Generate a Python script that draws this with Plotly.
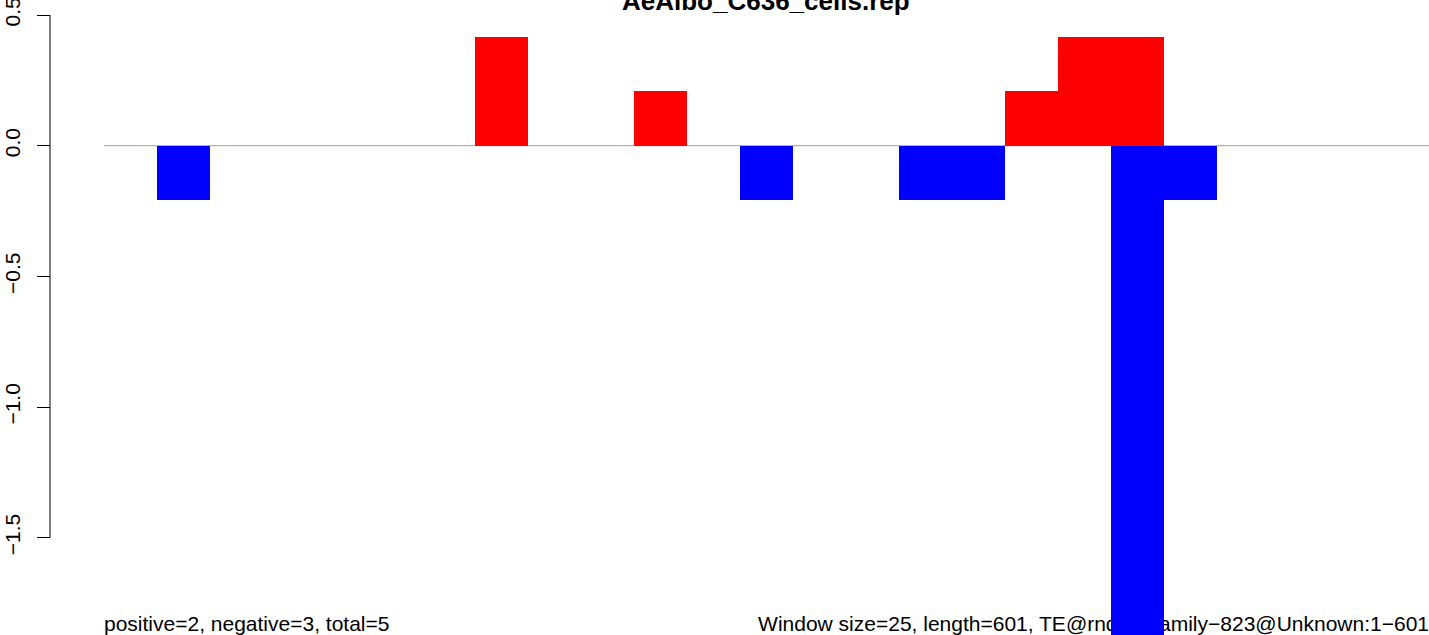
import plotly.graph_objects as go

# ---- data ----
window_index = list(range(25))
positive_values = [0, 0, 0, 0, 0, 0, 0, 0.4167, 0, 0, 0.2083, 0, 0, 0, 0, 0, 0, 0.2083, 0.4167, 0.4167, 0, 0, 0, 0, 0]
negative_values = [0, -0.2083, 0, 0, 0, 0, 0, 0, 0, 0, 0, 0, -0.2083, 0, 0, -0.2083, -0.2083, 0, 0, -1.875, -0.2083, 0, 0, 0, 0]
y_tick_values = [0.5, 0.0, -0.5, -1.0, -1.5]
y_tick_labels = ["0.5", "0.0", "\u22120.5", "\u22121.0", "\u22121.5"]
title_text = "AeAlbo_C636_cells.rep"
left_note = "positive=2, negative=3, total=5"
right_note = "Window size=25, length=601, TE@rnd\u22121_family\u2212823@Unknown:1\u2212601"

W, H = 1429, 635
FONT = "Liberation Sans, Arial, Helvetica, sans-serif"

fig = go.Figure()

# text layer on base (pixel-like) axes, drawn beneath the bar overlay
fig.add_trace(go.Scatter(
    x=[104, 1429], y=[626, 626], mode="text",
    text=[left_note, right_note],
    textposition=["middle right", "middle left"],
    textfont=dict(family=FONT, size=21, color="black"),
    hoverinfo="skip", showlegend=False, cliponaxis=False,
    xaxis="x", yaxis="y",
))

fig.add_trace(go.Bar(
    x=window_index, y=positive_values, marker=dict(color="#FF0000", line=dict(width=0)),
    width=1.0, showlegend=False, xaxis="x2", yaxis="y2",
))
fig.add_trace(go.Bar(
    x=window_index, y=negative_values, marker=dict(color="#0000FF", line=dict(width=0)),
    width=1.0, showlegend=False, xaxis="x2", yaxis="y2",
))

px_per_unit_y = 261.3
zero_px = 145.7
y_top = zero_px / px_per_unit_y
y_bot = -(H - zero_px) / px_per_unit_y
left_px = 104
bar_px = (W - left_px) / 25.0
x_lo = -0.5 - left_px / bar_px
x_hi = 24.5

fig.update_layout(
    width=W, height=H,
    margin=dict(l=0, r=0, t=0, b=0, autoexpand=False),
    paper_bgcolor="white", plot_bgcolor="white",
    barmode="relative", bargap=0,
    showlegend=False,
    xaxis=dict(range=[0, W], visible=False, domain=[0, 1], fixedrange=True, automargin=False),
    yaxis=dict(range=[H, 0], visible=False, domain=[0, 1], fixedrange=True, automargin=False),
    xaxis2=dict(overlaying="x", range=[x_lo, x_hi], visible=False, fixedrange=True, automargin=False),
    yaxis2=dict(
        overlaying="y", anchor="free", position=50 / W, side="left", automargin=False,
        range=[y_bot, y_top], showgrid=False, zeroline=False, showline=False,
        tickvals=y_tick_values, ticktext=y_tick_labels,
        ticks="outside", ticklen=13, tickwidth=1, tickcolor="black",
        tickangle=-90, tickfont=dict(family=FONT, size=21, color="black"),
        ticklabelstandoff=9, ticklabeloverflow="allow",
        fixedrange=True,
    ),
    shapes=[
        dict(type="line", xref="paper", yref="y2", x0=50 / W, x1=50 / W, y0=-1.5, y1=0.5,
             line=dict(color="black", width=1)),
        dict(type="line", xref="paper", yref="y2", x0=left_px / W, x1=1, y0=0, y1=0,
             line=dict(color="#A0A0A0", width=1), layer="below"),
    ],
    annotations=[
        dict(text="<b>" + title_text + "</b>", xref="paper", yref="paper",
             x=(left_px + W) / 2 / W, y=1 - 1 / H, xanchor="center", yanchor="middle",
             showarrow=False, font=dict(family=FONT, size=26, color="black")),
    ],
)

fig.write_html(
    "out.html",
    config={"displayModeBar": False},
    post_script="document.body.style.margin='0';document.body.style.overflow='hidden';",
)
